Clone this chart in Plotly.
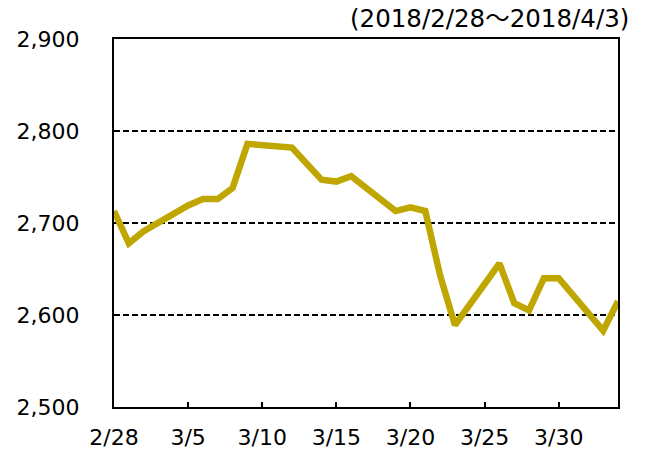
import plotly.graph_objects as go

dates = ["2018-02-28", "2018-03-01", "2018-03-02", "2018-03-05", "2018-03-06",
         "2018-03-07", "2018-03-08", "2018-03-09", "2018-03-12", "2018-03-13",
         "2018-03-14", "2018-03-15", "2018-03-16", "2018-03-19", "2018-03-20",
         "2018-03-21", "2018-03-22", "2018-03-23", "2018-03-26", "2018-03-27",
         "2018-03-28", "2018-03-29", "2018-03-30", "2018-04-02", "2018-04-03"]
values = [2713, 2678, 2691, 2719, 2726,
          2726, 2738, 2786, 2782, 2764,
          2747, 2745, 2751, 2713, 2717,
          2713, 2643, 2589, 2656, 2613,
          2605, 2640, 2640, 2583, 2615]

tick_vals = ["2018-02-28", "2018-03-05", "2018-03-10", "2018-03-15",
             "2018-03-20", "2018-03-25", "2018-03-30"]
tick_text = ["2/28", "3/5", "3/10", "3/15", "3/20", "3/25", "3/30"]
y_ticks = [2500, 2600, 2700, 2800, 2900]
y_text = ["2,500", "2,600", "2,700", "2,800", "2,900"]
title_text = "(2018/2/28<span style='font-family:Noto Sans CJK JP'>～</span>2018/4/3)"

FONT = "DejaVu Sans, Verdana, sans-serif"

fig = go.Figure()
fig.add_trace(go.Scatter(x=dates, y=values, mode="lines",
                         line=dict(color="#BFA600", width=6.5),
                         hoverinfo="skip"))

fig.update_layout(
    width=647, height=454,
    margin=dict(l=114, r=29, t=39, b=47),
    paper_bgcolor="white", plot_bgcolor="white",
    showlegend=False,
    font=dict(family=FONT, size=22, color="#000000"),
    xaxis=dict(type="date", range=["2018-02-28", "2018-04-03"],
               tickvals=tick_vals, ticktext=tick_text, automargin=False,
               ticks="inside", ticklen=5, tickwidth=2, tickcolor="black",
               showgrid=False, zeroline=False,
               showline=True, linecolor="black", linewidth=2, mirror=True,
               tickfont=dict(family=FONT, size=22), ticklabelstandoff=10),
    yaxis=dict(range=[2500, 2900], tickvals=y_ticks, ticktext=y_text,
               automargin=False,
               showgrid=True, gridcolor="black", gridwidth=2, griddash="6px,3px",
               zeroline=False, ticks="",
               showline=True, linecolor="black", linewidth=2, mirror=True,
               tickfont=dict(family=FONT, size=22), ticklabelstandoff=28),
    annotations=[dict(text=title_text, xref="paper", yref="paper",
                      x=1.026, y=1.062, xanchor="right", yanchor="middle",
                      showarrow=False, font=dict(family=FONT, size=24.5))],
)

fig.write_html("out.html", config={"displayModeBar": False},
               post_script="document.body.style.margin='0';document.body.style.overflow='hidden';")
